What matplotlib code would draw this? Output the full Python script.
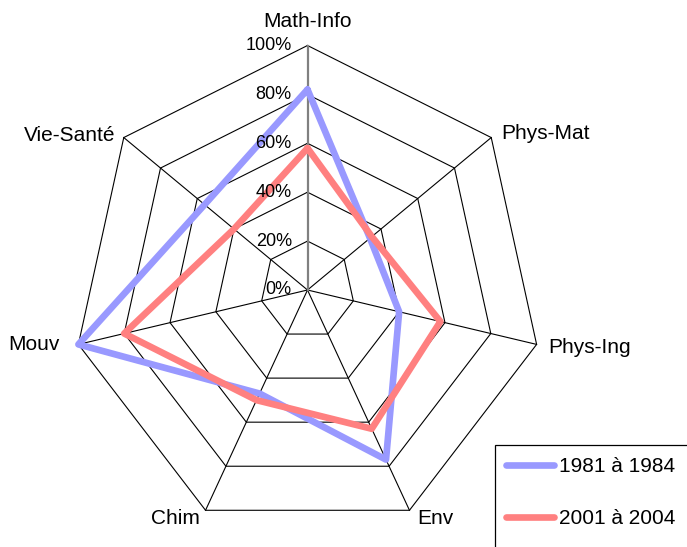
import matplotlib
matplotlib.use("Agg")
import matplotlib.pyplot as plt
import numpy as np
from matplotlib.patches import Rectangle

# ---------------- data ----------------
categories = ["Math-Info", "Phys-Mat", "Phys-Ing", "Env", "Chim", "Mouv", "Vie-Santé"]
series_1981 = [82, 34, 40, 77, 47, 100, 56]
series_2001 = [58, 35, 58, 63, 50, 80, 40]
series_labels = ["1981 à 1984", "2001 à 2004"]
r_ticks = [0, 20, 40, 60, 80, 100]
r_tick_labels = ["0%", "20%", "40%", "60%", "80%", "100%"]

# ---------------- style / layout ----------------
plt.rcParams["font.family"] = ["Liberation Sans", "DejaVu Sans"]
W, H = 687, 547
colors = ["#9999FF", "#FF8080"]
cx, cy, rx, ry = 307.5, 290.0, 235.0, 244.5

# label layout: (ha, dx px, dy px to baseline)
label_layout = [
    ("center", 0.0, 18.3),
    ("left", 9.6, -1.7),
    ("left", 11.4, -8.4),
    ("left", 7.6, -13.3),
    ("right", -5.7, -13.3),
    ("right", -18.3, -6.0),
    ("right", -8.3, -3.3),
]

fig = plt.figure(figsize=(W / 100, H / 100), dpi=100)
ax = fig.add_axes([(cx - rx) / W, (H - cy - ry) / H, 2 * rx / W, 2 * ry / H],
                  projection="polar")
ax.set_aspect("auto")
ax.set_theta_zero_location("N")
ax.set_theta_direction(-1)
ax.set_rlim(0, 100)
ax.grid(False)
ax.set_xticks([])
ax.set_yticks([])
ax.spines["polar"].set_visible(False)

n = len(categories)
angles = np.arange(n) * 2 * np.pi / n
closed = np.append(angles, angles[0])

# polygon grid
for t in r_ticks[1:]:
    ax.plot(closed, [t] * (n + 1), color="black", lw=0.8, zorder=1, clip_on=False)
# spokes
for i, a in enumerate(angles):
    if i == 0:
        ax.plot([a, a], [0, r_ticks[-1]], color="#808080", lw=1.6, zorder=1.5, clip_on=False)
    else:
        ax.plot([a, a], [0, r_ticks[-1]], color="black", lw=0.8, zorder=1, clip_on=False)

# data series
handles = []
for vals, col, lab in zip([series_1981, series_2001], colors, series_labels):
    h, = ax.plot(closed, list(vals) + [vals[0]], color=col, lw=4.8,
                 solid_joinstyle="round", solid_capstyle="round",
                 clip_on=False, zorder=3, label=lab)
    handles.append(h)

# radial tick labels
for t, lab in zip(r_ticks, r_tick_labels):
    ax.annotate(lab, xy=(0, t), xytext=(-15.7, 0), textcoords="offset pixels",
                ha="right", va="center", fontsize=13, color="black", zorder=5)

# category labels
for a, cat, (ha, dx, dy) in zip(angles, categories, label_layout):
    ax.annotate(cat, xy=(a, r_ticks[-1]), xytext=(dx, dy), textcoords="offset pixels",
                ha=ha, va="baseline", fontsize=15, color="black", zorder=5,
                annotation_clip=False)

# legend
fig.patches.append(Rectangle((495 / W, -0.1), 1.0, (H - 445) / H + 0.1,
                             transform=fig.transFigure, fill=False,
                             edgecolor="black", lw=0.9))
fs = 15 * 100 / 72
ax.legend(handles=handles, loc="upper left",
          bbox_to_anchor=(506 / W, 1 - 457 / H), bbox_transform=fig.transFigure,
          frameon=False, fontsize=15, borderpad=0, borderaxespad=0,
          handlelength=48 / fs, handletextpad=5.4 / fs, labelspacing=1.6)

fig.savefig("out.png", dpi=100)
